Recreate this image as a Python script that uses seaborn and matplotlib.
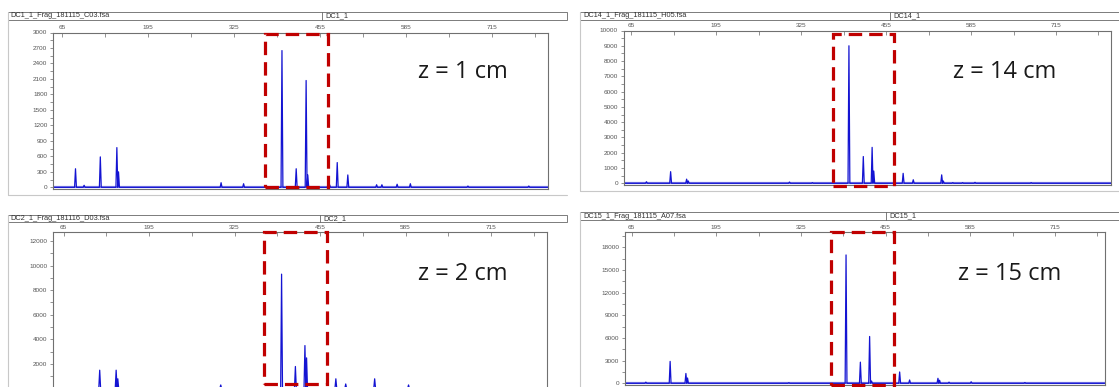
import numpy as np
import pandas as pd
import matplotlib
matplotlib.use("Agg")
import matplotlib.pyplot as plt
from matplotlib.patches import Rectangle
from matplotlib.lines import Line2D
from matplotlib.ticker import MultipleLocator
import seaborn as sns

# ---- data: peaks (size in bp, height in RFU) ----
file_names = ["DC1_1_Frag_181115_C03.fsa", "DC14_1_Frag_181115_H05.fsa",
              "DC2_1_Frag_181116_D03.fsa", "DC15_1_Frag_181115_A07.fsa"]
sample_names = ["DC1_1", "DC14_1", "DC2_1", "DC15_1"]
depth_labels = ["z = 1 cm", "z = 14 cm", "z = 2 cm", "z = 15 cm"]
size_ticks = [65, 195, 325, 455, 585, 715]

z1_pos = [85, 98, 122.5, 147.5, 150, 305, 339, 397, 418.5, 433.5, 436, 469, 480.5, 496.5, 540, 548, 571, 591, 678, 770]
z1_rfu = [360, 40, 590, 770, 300, 90, 70, 2650, 360, 2070, 240, 50, 480, 240, 50, 50, 60, 70, 25, 25]

z14_pos = [88, 125, 149.5, 152, 307, 342, 398, 420, 433.5, 436, 481, 496.5, 540, 542.5, 557, 572, 591, 677]
z14_rfu = [100, 760, 270, 150, 80, 40, 9000, 1750, 2350, 800, 650, 230, 550, 150, 40, 40, 60, 40]

z2_pos = [120, 145, 147.5, 304, 396.5, 417.5, 432, 434.5, 479, 494, 538, 589.5]
z2_rfu = [1500, 1500, 800, 300, 9300, 1800, 3500, 2500, 800, 380, 800, 300]

z15_pos = [87, 124.3, 148.5, 151, 306.6, 394.4, 416.4, 430.6, 433.5, 476.7, 492, 535.5, 538, 552.5, 586.5, 669]
z15_rfu = [150, 2900, 1300, 700, 80, 17000, 2800, 6200, 300, 1500, 440, 660, 400, 150, 200, 100]

# highlighted window (bp)
box_start = [371, 374, 370, 371]
box_end = [466, 467, 466, 468]

W, H = 1119, 387
sns.set_theme(style="white")
plt.rcParams["font.family"] = ["Liberation Sans", "DejaVu Sans"]

fig = plt.figure(figsize=(W / 100, H / 100), dpi=100)


def fx(x):
    return x / W


def fy(y):
    return 1 - y / H


def frame(x0, top, hdr, div, right, bottom, name, short):
    grey = "#c8c8c8"
    fig.add_artist(Line2D([fx(x0), fx(x0)], [fy(top), fy(bottom)], color=grey, lw=0.8))
    fig.add_artist(Line2D([fx(x0), fx(right)], [fy(bottom), fy(bottom)], color=grey, lw=0.8))
    fig.add_artist(Rectangle((fx(x0), fy(hdr)), fx(right - x0), (hdr - top) / H,
                             fill=False, edgecolor="#666666", lw=0.6))
    fig.add_artist(Line2D([fx(div), fx(div)], [fy(top), fy(hdr)], color="#666666", lw=0.6))
    fig.text(fx(x0 + 3), fy((top + hdr) / 2), name, fontsize=5.3, color="#333333", va="center")
    fig.text(fx(div + 3), fy((top + hdr) / 2), short, fontsize=5.3, color="#333333", va="center")


def trace(pos, rfu, x0, x1, half=1.4):
    xs, ys = [x0], [0.0]
    for p, h in sorted(zip(pos, rfu)):
        xs += [p - half, p, p + half]
        ys += [0.0, h, 0.0]
    xs.append(x1)
    ys.append(0.0)
    return pd.DataFrame({"size": xs, "rfu": ys})


# panel boxes in pixels: left, top, right, bottom
panels = [
    dict(box=(53, 32.5, 548, 189.4), xlim=(51, 799), ylim=(-40, 3000), ystep=300,
         pos=z1_pos, rfu=z1_rfu, ybox=(0.016, 0.99), txt=(418, 72), zero_label=True),
    dict(box=(623.6, 30.5, 1111.5, 184.8), xlim=(53, 800), ylim=(-100, 10000), ystep=1000,
         pos=z14_pos, rfu=z14_rfu, ybox=(-0.008, 0.979), txt=(953, 72), zero_label=True),
    dict(box=(53, 232.3, 547, 390.5), xlim=(49, 800), ylim=(-150, 12700), ystep=2000,
         pos=z2_pos, rfu=z2_rfu, ybox=(0.04, 1.0), txt=(418, 274), zero_label=False),
    dict(box=(625, 232.3, 1105, 384.8), xlim=(55, 792), ylim=(-200, 20000), ystep=3000,
         pos=z15_pos, rfu=z15_rfu, ybox=(-0.003, 1.0), txt=(958, 274), zero_label=True),
]

frame(7.5, 12, 19.5, 322, 567, 195, file_names[0], sample_names[0])
frame(580, 12, 19.5, 890, 1130, 191, file_names[1], sample_names[1])
frame(7.5, 215, 222.5, 320, 567, 420, file_names[2], sample_names[2])
frame(580, 212, 220, 886, 1130, 420, file_names[3], sample_names[3])

for i, p in enumerate(panels):
    l, t, r, b = p["box"]
    ax = fig.add_axes([fx(l), fy(b), fx(r - l), (b - t) / H])
    df = trace(p["pos"], p["rfu"], *p["xlim"])
    ax.plot(p["xlim"], [0, 0], color="#8c8ce6", lw=1.6, zorder=1)
    sns.lineplot(data=df, x="size", y="rfu", sort=False, estimator=None,
                 color="#1414d2", lw=0.9, ax=ax, zorder=2)
    ax.set_xlim(p["xlim"])
    ax.set_ylim(p["ylim"])
    ax.set_xlabel("")
    ax.set_ylabel("")

    ax.xaxis.tick_top()
    ax.set_xticks(size_ticks)
    ax.xaxis.set_minor_locator(MultipleLocator(65))
    ax.tick_params(axis="x", which="both", direction="in", length=3, width=0.5,
                   colors="#666666", labelsize=4.6, labelcolor="#555555", pad=1.5,
                   top=True, bottom=False)
    ymax = p["ylim"][1]
    yt = np.arange(0, ymax + 1, p["ystep"])
    ax.set_yticks(yt)
    labels = [str(int(v)) for v in yt]
    if not p["zero_label"]:
        labels[0] = ""   # the zero label falls below the cropped picture edge
    ax.set_yticklabels(labels)
    ax.yaxis.set_minor_locator(MultipleLocator(p["ystep"] / 2))
    ax.tick_params(axis="y", which="both", direction="out", length=2.5, width=0.5,
                   colors="#666666", labelsize=4.6, labelcolor="#555555", pad=1.5,
                   left=True)
    for s in ax.spines.values():
        s.set_color("#707070")
        s.set_linewidth(0.8)

    y0, y1 = p["ybox"]
    ax.add_patch(Rectangle((box_start[i], y0), box_end[i] - box_start[i], y1 - y0,
                           transform=ax.get_xaxis_transform(), fill=False,
                           edgecolor="#c00000", lw=2.3, linestyle=(0, (4.2, 2.2)),
                           clip_on=False, zorder=5))

    tx, ty = p["txt"]
    fig.text(fx(tx), fy(ty), depth_labels[i], fontsize=17, family="Open Sans",
             color="#1a1a1a", va="center", ha="left")

fig.savefig("out.png", dpi=100)
